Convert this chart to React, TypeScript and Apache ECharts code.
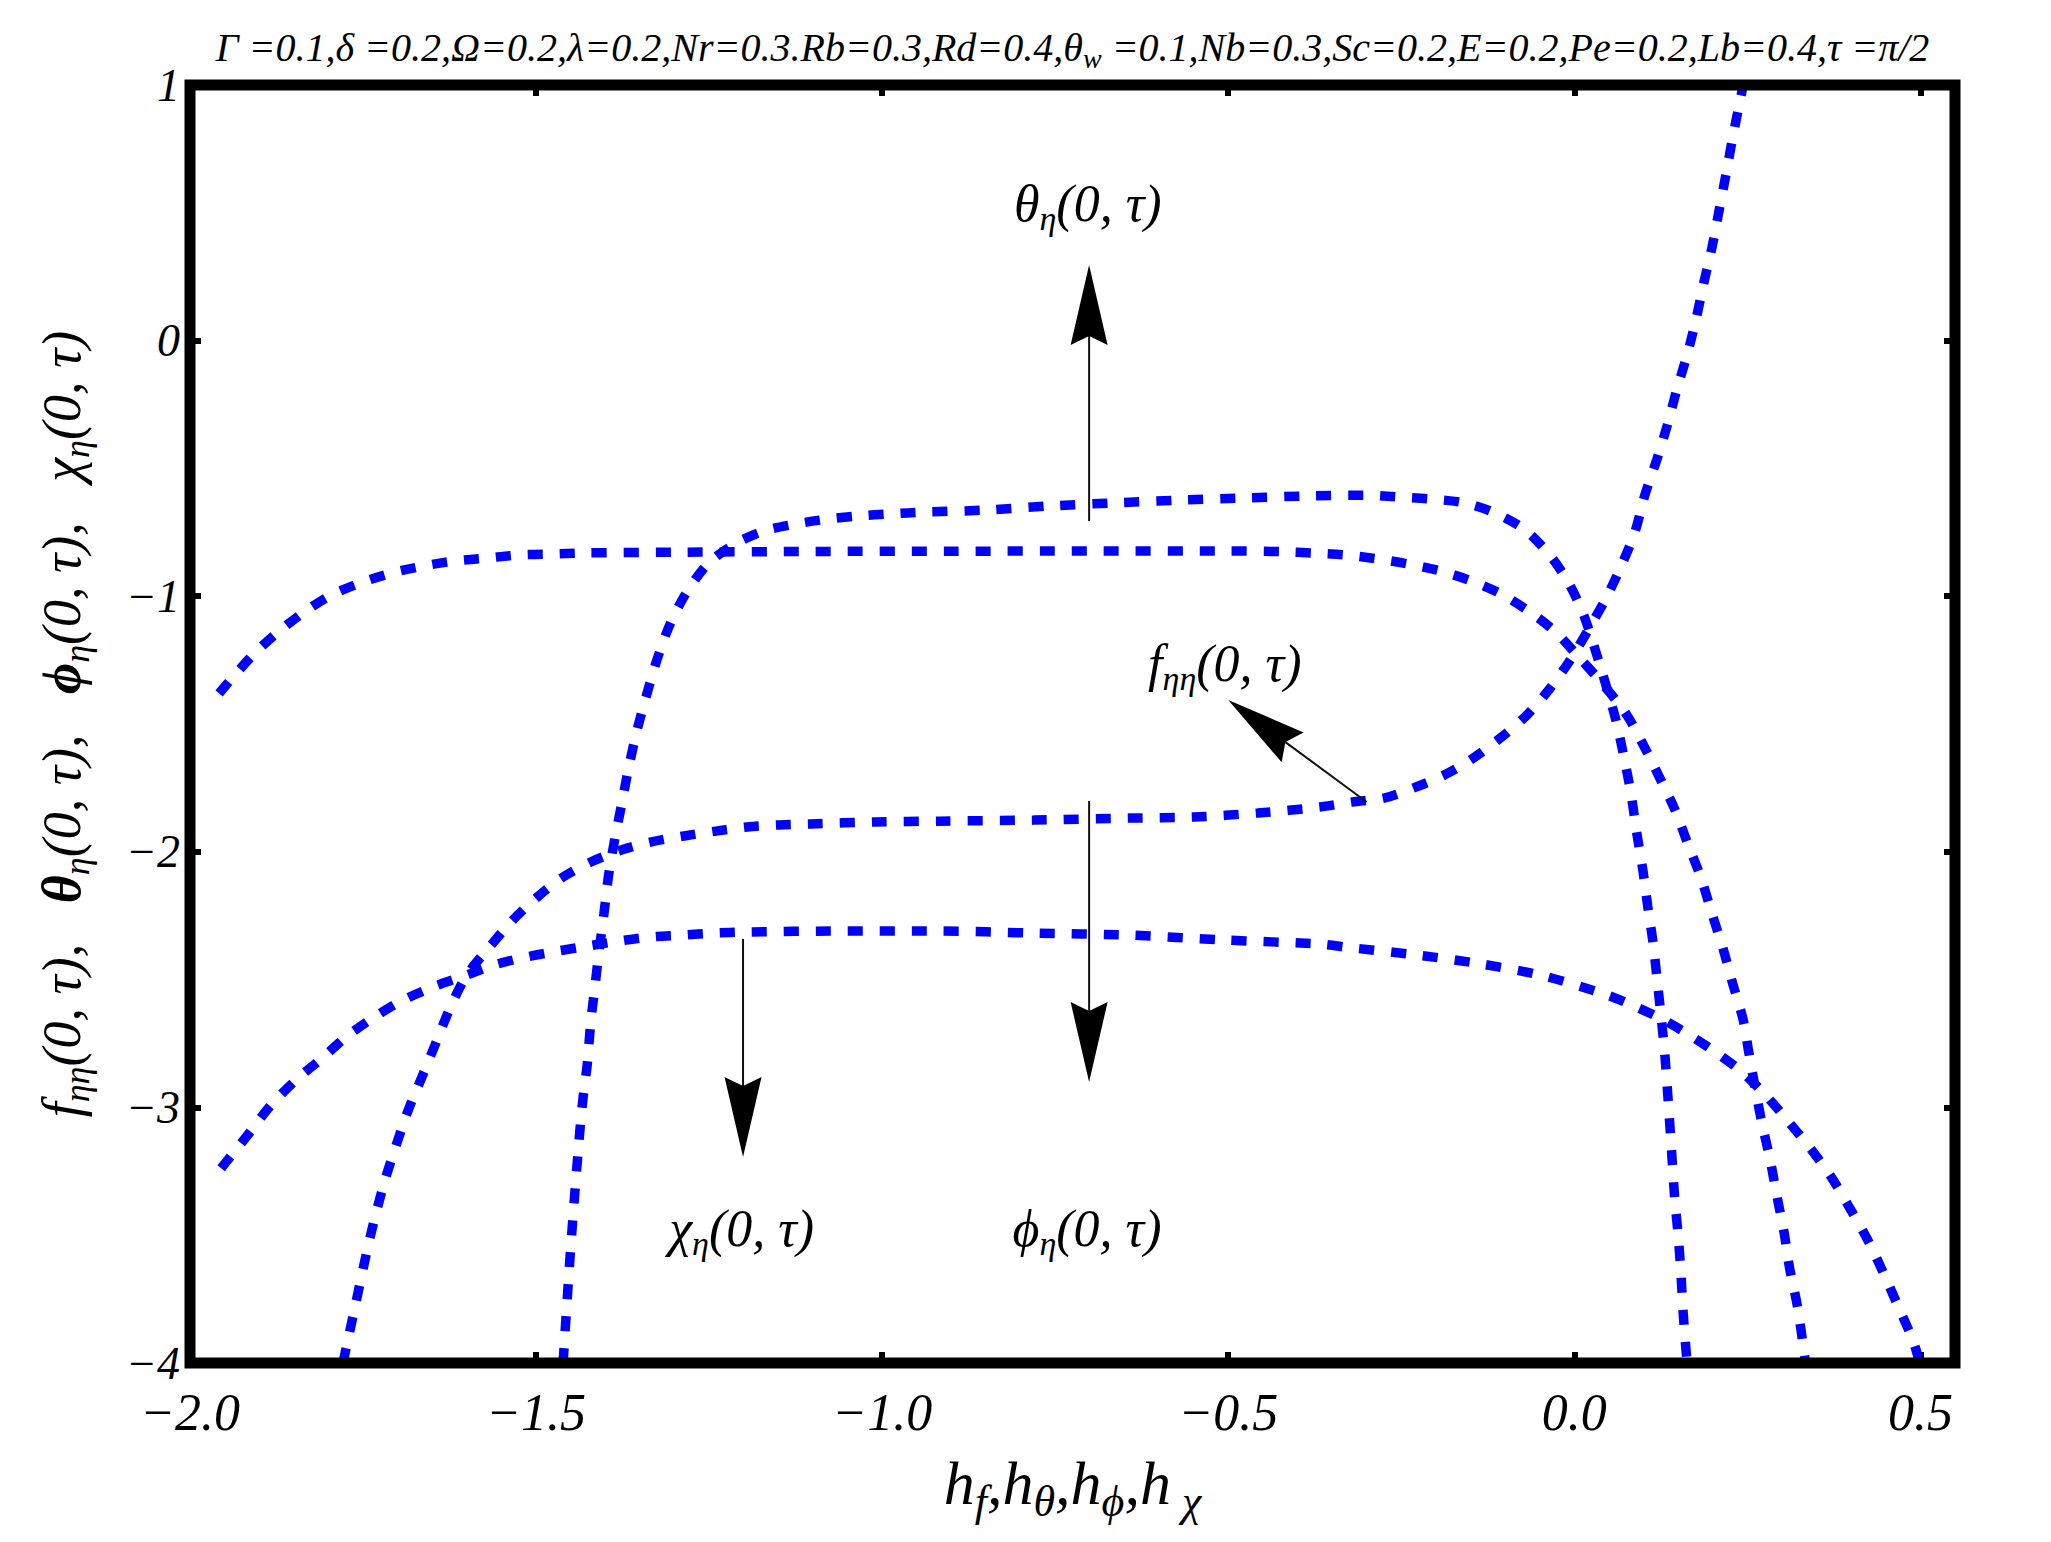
import React, { useEffect, useRef } from "react";
import * as echarts from "echarts";

// ---------- axis ticks ----------
const xTickValues = [-2.0, -1.5, -1.0, -0.5, 0.0, 0.5];
const yTickValues = [1, 0, -1, -2, -3, -4];
const xRange = [-2.0, 0.55];
const yRange = [-4, 1];

// ---------- curves ----------
const thetaCurve: number[][] = [
  [-1.461, -4.0], [-1.450, -3.55], [-1.438, -3.131], [-1.432, -2.959], [-1.426, -2.83],
  [-1.421, -2.666], [-1.415, -2.529], [-1.409, -2.388], [-1.402, -2.243], [-1.395, -2.087],
  [-1.386, -1.946], [-1.376, -1.809], [-1.366, -1.668], [-1.354, -1.523], [-1.34, -1.383],
  [-1.325, -1.246], [-1.307, -1.113], [-1.283, -0.987], [-1.252, -0.874], [-1.213, -0.796],
  [-1.171, -0.745], [-1.126, -0.718], [-1.078, -0.698], [-1.035, -0.686], [-0.987, -0.678],
  [-0.94, -0.671], [-0.849, -0.663], [-0.758, -0.647], [-0.667, -0.635], [-0.571, -0.624],
  [-0.483, -0.616], [-0.389, -0.608], [-0.3, -0.605], [-0.252, -0.612], [-0.206, -0.62],
  [-0.159, -0.635], [-0.115, -0.674], [-0.073, -0.737], [-0.038, -0.831], [-0.009, -0.944],
  [0.014, -1.077], [0.037, -1.27], [0.06, -1.484], [0.072, -1.633], [0.082, -1.774],
  [0.09, -1.923], [0.099, -2.071], [0.106, -2.212], [0.114, -2.361], [0.12, -2.509],
  [0.126, -2.66], [0.131, -2.8], [0.135, -2.95], [0.14, -3.15], [0.145, -3.354],
  [0.15, -3.499], [0.154, -3.648], [0.157, -3.793], [0.161, -3.937], [0.163, -4.0],
];

const phiCurve: number[][] = [
  [-1.958, -1.38], [-1.912, -1.238], [-1.876, -1.148], [-1.837, -1.066], [-1.798, -0.999],
  [-1.754, -0.948], [-1.708, -0.909], [-1.663, -0.882], [-1.617, -0.862], [-1.572, -0.851],
  [-1.526, -0.839], [-1.48, -0.835], [-1.435, -0.831], [-1.3, -0.828], [-1.1, -0.825],
  [-0.9, -0.824], [-0.7, -0.823], [-0.5, -0.823], [-0.42, -0.826], [-0.378, -0.831],
  [-0.33, -0.839], [-0.287, -0.853], [-0.24, -0.874], [-0.194, -0.901], [-0.148, -0.941],
  [-0.106, -0.991], [-0.064, -1.062], [-0.027, -1.14], [0.005, -1.234], [0.04, -1.34],
  [0.075, -1.461], [0.099, -1.578], [0.122, -1.703], [0.145, -1.833], [0.164, -1.969],
  [0.183, -2.102], [0.199, -2.243], [0.215, -2.38], [0.229, -2.517], [0.244, -2.658],
  [0.252, -2.783], [0.261, -2.92], [0.271, -3.061], [0.283, -3.206], [0.293, -3.351],
  [0.303, -3.488], [0.311, -3.628], [0.322, -3.773], [0.33, -3.918], [0.334, -4.0],
];

const fCurve: number[][] = [
  [-1.779, -4.0], [-1.76, -3.76], [-1.74, -3.51], [-1.72, -3.3], [-1.702, -3.147],
  [-1.684, -3.006], [-1.663, -2.869], [-1.643, -2.736], [-1.623, -2.603], [-1.6, -2.482],
  [-1.567, -2.372], [-1.535, -2.271], [-1.5, -2.181], [-1.463, -2.102], [-1.421, -2.04],
  [-1.377, -1.993], [-1.335, -1.962], [-1.286, -1.938], [-1.24, -1.919], [-1.195, -1.903],
  [-1.149, -1.895], [-1.103, -1.891], [-1.01, -1.883], [-0.917, -1.88], [-0.781, -1.876],
  [-0.642, -1.868], [-0.551, -1.864], [-0.457, -1.848], [-0.368, -1.825], [-0.321, -1.805],
  [-0.275, -1.79], [-0.232, -1.75], [-0.188, -1.7], [-0.148, -1.637], [-0.107, -1.555],
  [-0.07, -1.469], [-0.037, -1.367], [-0.006, -1.25], [0.02, -1.132], [0.046, -1.007],
  [0.069, -0.874], [0.088, -0.745], [0.102, -0.604], [0.119, -0.467], [0.134, -0.334],
  [0.148, -0.193], [0.163, -0.056], [0.176, 0.085], [0.187, 0.225], [0.199, 0.366],
  [0.209, 0.507], [0.219, 0.648], [0.229, 0.797], [0.239, 0.933], [0.244, 1.0],
];

const chiCurve: number[][] = [
  [-1.955, -3.238], [-1.942, -3.194], [-1.912, -3.092], [-1.883, -2.991], [-1.847, -2.893],
  [-1.809, -2.807], [-1.773, -2.721], [-1.731, -2.642], [-1.692, -2.58], [-1.649, -2.529],
  [-1.6, -2.482], [-1.561, -2.443], [-1.515, -2.412], [-1.468, -2.388], [-1.426, -2.369],
  [-1.38, -2.349], [-1.335, -2.333], [-1.289, -2.326], [-1.243, -2.318], [-1.198, -2.314],
  [-1.058, -2.31], [-0.919, -2.31], [-0.781, -2.318], [-0.642, -2.326], [-0.506, -2.345],
  [-0.368, -2.361], [-0.324, -2.375], [-0.232, -2.402], [-0.139, -2.437], [-0.047, -2.484],
  [0.043, -2.556], [0.086, -2.603], [0.129, -2.658], [0.173, -2.728], [0.21, -2.795],
  [0.244, -2.865], [0.28, -2.963], [0.311, -3.061], [0.343, -3.167], [0.372, -3.276],
  [0.398, -3.394], [0.424, -3.519], [0.446, -3.644], [0.467, -3.773], [0.489, -3.91],
  [0.497, -3.98],
];

// ---------- annotation anchors (data coordinates) ----------
const arrowTheta = { from: [-0.701, -0.706], to: [-0.701, 0.296] };
const arrowF = { from: [-0.3, -1.805], to: [-0.5, -1.406] };
const arrowPhi = { from: [-0.701, -1.801], to: [-0.701, -2.901] };
const arrowChi = { from: [-1.201, -2.341], to: [-1.201, -3.194] };
const labelTheta = { at: [-0.703, 0.535], main: "θ", sub: "η" };
const labelF = { at: [-0.505, -1.262], main: "f", sub: "ηη" };
const labelPhi = { at: [-0.704, -3.475], main: "ϕ", sub: "η" };
const labelChi = { at: [-1.203, -3.475], main: "χ", sub: "η" };

const titleParts = [
  "Γ =0.1,δ =0.2,Ω=0.2,λ=0.2,Nr=0.3.Rb=0.3,Rd=0.4,θ",
  "w",
  " =0.1,Nb=0.3,Sc=0.2,E=0.2,Pe=0.2,Lb=0.4,τ =π/2",
];

const SERIF = "'Liberation Serif', 'DejaVu Serif', serif";
const BLUE = "#0000ff";

const GRID = { left: 190, top: 85, right: 96, bottom: 179 };

function fmtMinus(s: string) {
  return s.replace("-", "\u2212");
}

function arrowEls(p0: number[], p1: number[]) {
  const L = 80, W = 37, notch = 9;
  const dx = p1[0] - p0[0], dy = p1[1] - p0[1];
  const len = Math.hypot(dx, dy);
  const ux = dx / len, uy = dy / len;
  const nx = -uy, ny = ux;
  const bx = p1[0] - ux * L, by = p1[1] - uy * L;
  const mx = bx + ux * notch, my = by + uy * notch;
  return [
    {
      type: "line",
      z: 50,
      shape: { x1: p0[0], y1: p0[1], x2: mx, y2: my },
      style: { stroke: "#111", lineWidth: 2 },
    },
    {
      type: "polygon",
      z: 51,
      shape: {
        points: [
          [p1[0], p1[1]],
          [bx + (nx * W) / 2, by + (ny * W) / 2],
          [mx, my],
          [bx - (nx * W) / 2, by - (ny * W) / 2],
        ],
      },
      style: { fill: "#000" },
    },
  ];
}

function labelEl(p: number[], main: string, sub: string) {
  return {
    type: "text",
    z: 52,
    x: p[0],
    y: p[1],
    style: {
      text: `{m|${main}}{s|${sub}}{m|(0, τ)}`,
      align: "center",
      verticalAlign: "middle",
      fill: "#000",
      rich: {
        m: { fontSize: 52, fontFamily: SERIF, fontStyle: "italic", fill: "#000" },
        s: { fontSize: 34, fontFamily: SERIF, fontStyle: "italic", fill: "#000", padding: [30, 0, 0, 0] },
      },
    },
  };
}

export default function App() {
  const ref = useRef<HTMLDivElement>(null);
  useEffect(() => {
    if (!ref.current) return;
    const chart = echarts.init(ref.current, undefined, { renderer: "svg" });

    const tickStyle = { show: true, inside: true, length: 11, lineStyle: { color: "#000", width: 6 } };
    const axisCommonX = {
      type: "value",
      min: xRange[0],
      max: xRange[1],
      interval: 0.5,
      axisLine: { show: false, onZero: false },
      splitLine: { show: false },
      axisTick: tickStyle,
    };
    const axisCommonY = {
      type: "value",
      min: yRange[0],
      max: yRange[1],
      interval: 1,
      axisLine: { show: false, onZero: false },
      splitLine: { show: false },
      axisTick: tickStyle,
    };

    const lineSeries = (name: string, data: number[][]) => ({
      name,
      type: "line",
      data,
      xAxisIndex: 0,
      yAxisIndex: 0,
      symbol: "none",
      showSymbol: false,
      smooth: 0.3,
      clip: true,
      z: 3,
      lineStyle: { color: BLUE, width: 9.5, type: [15, 17], cap: "butt" },
    });

    chart.setOption({
      animation: false,
      backgroundColor: "#ffffff",
      grid: { ...GRID, containLabel: false, show: false },
      xAxis: [
        {
          ...axisCommonX,
          position: "bottom",
          name: "{m|h}{s|f}{m|,h}{s|θ}{m|,h}{s|ϕ}{m|,h}{s| χ}",
          nameLocation: "middle",
          nameGap: 80,
          nameTextStyle: {
            rich: {
              m: { fontSize: 62, fontFamily: SERIF, fontStyle: "italic", color: "#000" },
              s: { fontSize: 44, fontFamily: SERIF, fontStyle: "italic", color: "#000", padding: [36, 0, 0, 0] },
            },
          },
          axisLabel: {
            show: true,
            margin: 23,
            fontSize: 52,
            fontFamily: SERIF,
            fontStyle: "italic",
            color: "#000",
            formatter: (v: number) => {
              const hit = xTickValues.find((t) => Math.abs(t - v) < 1e-9);
              return hit === undefined ? "" : fmtMinus(hit.toFixed(1));
            },
          },
        },
        { ...axisCommonX, position: "top", axisLabel: { show: false } },
      ],
      yAxis: [
        {
          ...axisCommonY,
          position: "left",
          name:
            "{m|f}{s|ηη}{m|(0, τ),   }{b|θ}{s|η}{m|(0, τ),   }{b|ϕ}{s|η}{m|(0, τ),   }{m|χ}{s|η}{m|(0, τ)}",
          nameLocation: "middle",
          nameRotate: 90,
          nameGap: 95,
          nameTextStyle: {
            rich: {
              m: { fontSize: 54, fontFamily: SERIF, fontStyle: "italic", color: "#000" },
              b: { fontSize: 54, fontFamily: SERIF, fontStyle: "italic", fontWeight: "bold", color: "#000" },
              s: { fontSize: 36, fontFamily: SERIF, fontStyle: "italic", color: "#000", padding: [30, 0, 0, 0] },
            },
          },
          axisLabel: {
            show: true,
            margin: 10,
            fontSize: 46,
            fontFamily: SERIF,
            fontStyle: "italic",
            color: "#000",
            formatter: (v: number) => {
              const hit = yTickValues.find((t) => Math.abs(t - v) < 1e-9);
              return hit === undefined ? "" : fmtMinus(String(hit));
            },
          },
        },
        { ...axisCommonY, position: "right", axisLabel: { show: false } },
      ],
      series: [
        lineSeries("θη(0,τ)", thetaCurve),
        lineSeries("ϕη(0,τ)", phiCurve),
        lineSeries("fηη(0,τ)", fCurve),
        lineSeries("χη(0,τ)", chiCurve),
      ],
    });

    const px = (p: number[]) =>
      chart.convertToPixel({ xAxisIndex: 0, yAxisIndex: 0 }, p) as unknown as number[];

    const tl = px([xRange[0], yRange[1]]);
    const br = px([xRange[1], yRange[0]]);

    const graphic: any[] = [
      {
        type: "rect",
        z: 100,
        shape: { x: tl[0], y: tl[1], width: br[0] - tl[0], height: br[1] - tl[1] },
        style: { fill: "none", stroke: "#000", lineWidth: 11 },
      },
      {
        type: "text",
        z: 60,
        x: (tl[0] + br[0]) / 2,
        y: 47,
        style: {
          text: `{m|${titleParts[0]}}{s|${titleParts[1]}}{m|${titleParts[2]}}`,
          align: "center",
          verticalAlign: "middle",
          fill: "#000",
          rich: {
            m: { fontSize: 40, fontFamily: SERIF, fontStyle: "italic", fill: "#000" },
            s: { fontSize: 28, fontFamily: SERIF, fontStyle: "italic", fill: "#000", padding: [22, 0, 0, 0] },
          },
        },
      },
      ...arrowEls(px(arrowTheta.from), px(arrowTheta.to)),
      ...arrowEls(px(arrowF.from), px(arrowF.to)),
      ...arrowEls(px(arrowPhi.from), px(arrowPhi.to)),
      ...arrowEls(px(arrowChi.from), px(arrowChi.to)),
      labelEl(px(labelTheta.at), labelTheta.main, labelTheta.sub),
      labelEl(px(labelF.at), labelF.main, labelF.sub),
      labelEl(px(labelPhi.at), labelPhi.main, labelPhi.sub),
      labelEl(px(labelChi.at), labelChi.main, labelChi.sub),
    ];

    chart.setOption({ graphic });

    return () => {
      chart.dispose();
    };
  }, []);

  return (
    <div
      ref={ref}
      style={{ position: "absolute", left: 0, top: 0, width: 2051, height: 1542, background: "#fff" }}
    />
  );
}
